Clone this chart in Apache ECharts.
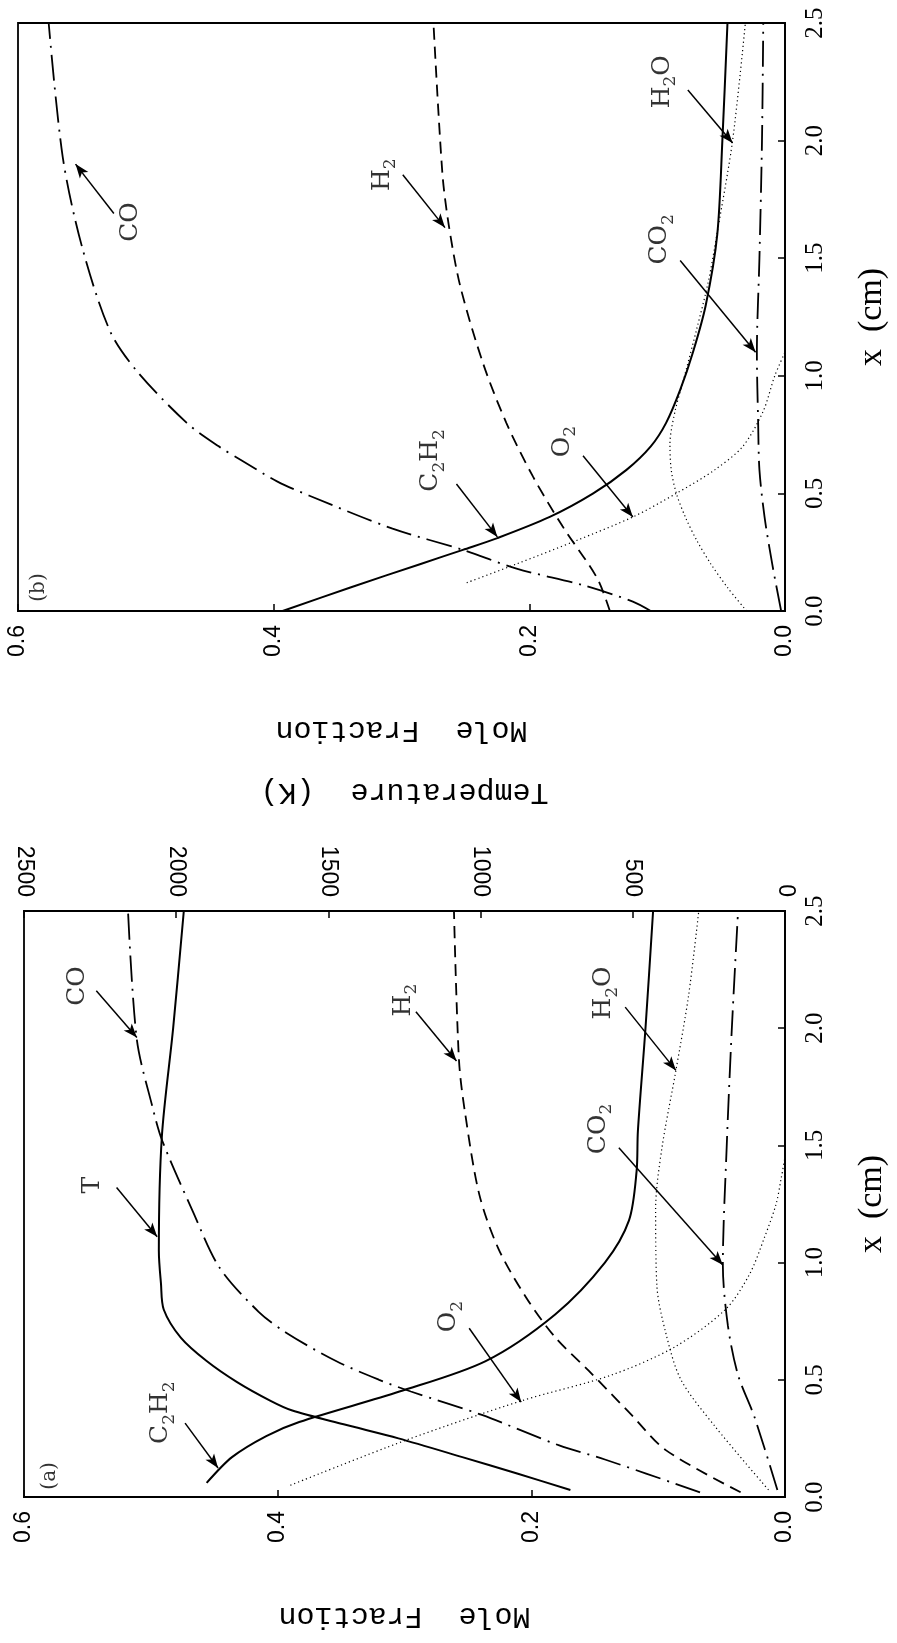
<!DOCTYPE html>
<html><head><meta charset="utf-8">
<script src="https://cdn.jsdelivr.net/npm/echarts@6/dist/echarts.min.js"></script>
<style>html,body{margin:0;padding:0;background:#fff;}#c{width:897px;height:1643px;}</style>
</head><body><div id="c"></div>
<script>
// ---------- DATA (x in cm, mole fraction / temperature) ----------
// Panel (b)
const bC2H2X = [0, 0.1, 0.2, 0.26, 0.31, 0.4, 0.5, 0.6, 0.7, 0.8, 0.94, 1.1, 1.3, 1.6, 2.0, 2.5];
const bC2H2  = [0.393, 0.34, 0.285, 0.252, 0.225, 0.184, 0.15, 0.124, 0.105, 0.093, 0.082, 0.072, 0.062, 0.053, 0.049, 0.045];
const bCOX   = [0.0, 0.04, 0.11, 0.18, 0.26, 0.35, 0.49, 0.55, 0.64, 0.70, 0.80, 1.02, 1.19, 1.55, 1.93, 2.5];
const bCO    = [0.105, 0.119, 0.158, 0.21, 0.252, 0.307, 0.372, 0.397, 0.425, 0.443, 0.468, 0.507, 0.528, 0.55, 0.565, 0.576];
const bH2X   = [0.0, 0.14, 0.36, 0.57, 0.80, 1.05, 1.38, 1.64, 1.86, 2.5];
const bH2    = [0.137, 0.147, 0.174, 0.197, 0.218, 0.236, 0.254, 0.263, 0.268, 0.275];
const bO2X   = [0.12, 0.2, 0.3, 0.4, 0.5, 0.6, 0.7, 0.85, 1.0, 1.1];
const bO2    = [0.249, 0.21, 0.163, 0.119, 0.085, 0.055, 0.033, 0.017, 0.008, 0.0];
const bH2OX  = [0.0, 0.1, 0.2, 0.3, 0.4, 0.5, 0.6, 0.71, 0.85, 0.97, 1.2, 1.4, 1.61, 2.0, 2.5];
const bH2O   = [0.03, 0.045, 0.058, 0.069, 0.078, 0.085, 0.089, 0.09, 0.086, 0.08, 0.069, 0.06, 0.053, 0.041, 0.031];
const bCO2X  = [0.0, 0.2, 0.4, 0.6, 0.8, 1.1, 1.5, 2.0, 2.5];
const bCO2   = [0.003, 0.01, 0.016, 0.02, 0.021, 0.022, 0.02, 0.018, 0.017];
// Panel (a)
const aC2H2X = [0.06, 0.17, 0.26, 0.32, 0.45, 0.58, 0.78, 1.0, 1.18, 1.39, 1.56, 2.0, 2.5];
const aC2H2  = [0.456, 0.436, 0.409, 0.383, 0.304, 0.236, 0.181, 0.142, 0.123, 0.117, 0.116, 0.11, 0.104];
const aTX    = [0.03, 0.1, 0.17, 0.25, 0.31, 0.37, 0.41, 0.49, 0.58, 0.68, 0.8, 0.91, 1.05, 1.54, 2.0, 2.5];
const aT     = [705, 880, 1060, 1270, 1450, 1621, 1690, 1800, 1900, 1985, 2041, 2050, 2057, 2047, 2010, 1975];
const aCOX   = [0.02, 0.16, 0.22, 0.35, 0.45, 0.50, 0.58, 0.70, 0.79, 0.98, 1.22, 1.52, 1.67, 1.95, 2.5];
const aCO    = [0.067, 0.142, 0.178, 0.239, 0.295, 0.32, 0.354, 0.393, 0.415, 0.446, 0.467, 0.491, 0.499, 0.511, 0.518];
const aH2X   = [0.02, 0.2, 0.35, 0.54, 0.68, 0.85, 1.06, 1.29, 1.63, 1.86, 2.5];
const aH2    = [0.035, 0.094, 0.121, 0.155, 0.181, 0.204, 0.226, 0.241, 0.252, 0.257, 0.261];
const aO2X   = [0.05, 0.24, 0.41, 0.52, 0.64, 0.8, 0.95, 1.11, 1.25, 1.36, 1.45];
const aO2    = [0.39, 0.30, 0.208, 0.137, 0.087, 0.047, 0.028, 0.016, 0.007, 0.003, 0.0];
const aH2OX  = [0.03, 0.3, 0.5, 0.7, 0.9, 1.23, 1.49, 1.82, 2.14, 2.5];
const aH2O   = [0.013, 0.055, 0.082, 0.094, 0.101, 0.102, 0.097, 0.086, 0.076, 0.068];
const aCO2X  = [0.03, 0.34, 0.52, 0.73, 0.99, 1.49, 1.99, 2.5];
const aCO2   = [0.006, 0.024, 0.037, 0.045, 0.049, 0.046, 0.042, 0.037];
// Tick values
const moleTicks = [0, 0.2, 0.4, 0.6];
const xTicks = [0, 0.5, 1.0, 1.5, 2.0, 2.5];
const tempTicks = [0, 500, 1000, 1500, 2000, 2500];

// annotation texts (rich text: {n|..} normal, {s|..} subscript)
const bLabels = [
  {t:'{n|CO}', p:[0.512,1.654], from:[0.525,1.69], to:[0.555,1.90]},
  {t:'{n|H}{s|2}', p:[0.315,1.855], from:[0.299,1.855], to:[0.266,1.63]},
  {t:'{n|C}{s|2}{n|H}{s|2}', p:[0.277,0.64], from:[0.257,0.54], to:[0.225,0.315]},
  {t:'{n|O}{s|2}', p:[0.174,0.72], from:[0.158,0.66], to:[0.119,0.40]},
  {t:'{n|CO}{s|2}', p:[0.098,1.58], from:[0.082,1.49], to:[0.023,1.10]},
  {t:'{n|H}{s|2}{n|O}', p:[0.096,2.25], from:[0.076,2.215], to:[0.041,1.99]}
];
const aLabels = [
  {t:'{n|CO}', p:[0.558,2.18], from:[0.543,2.16], to:[0.511,1.96]},
  {t:'{n|T}', p:[0.546,1.33], from:[0.527,1.32], to:[0.495,1.11]},
  {t:'{n|C}{s|2}{n|H}{s|2}', p:[0.492,0.36], from:[0.473,0.315], to:[0.447,0.124]},
  {t:'{n|H}{s|2}', p:[0.301,2.12], from:[0.291,2.07], to:[0.259,1.86]},
  {t:'{n|O}{s|2}', p:[0.265,0.77], from:[0.249,0.72], to:[0.208,0.405]},
  {t:'{n|H}{s|2}{n|O}', p:[0.143,2.15], from:[0.126,2.09], to:[0.086,1.82]},
  {t:'{n|CO}{s|2}', p:[0.147,1.57], from:[0.131,1.49], to:[0.049,0.99]}
];

// ---------- STYLES ----------
const sans = 'Liberation Sans, Arial, sans-serif';
const serif = 'DejaVu Serif, Liberation Serif, serif';
const mono = 'Liberation Mono, Courier New, monospace';
const BLACK = '#000';
const SOLID = {type:'solid', width:2};
const DASH = {type:[12,7], width:1.8};
const DASHDOT = {type:[26,7,2,7], width:1.8};
const DOT = {type:[1.2,3], width:1.2};

function pairs(xs, vs){ return xs.map((x,i)=>[vs[i], x]); }
function line(name, xs, vs, style, xi, yi){
  return {name, type:'line', xAxisIndex:xi, yAxisIndex:yi, data:pairs(xs,vs),
    showSymbol:false, symbol:'none', smooth:0.3, clip:true,
    lineStyle:Object.assign({color:BLACK, cap:'butt'}, style), z:3};
}
const rich = {
  n:{fontFamily:serif, fontSize:25, lineHeight:34, verticalAlign:'middle', color:BLACK},
  s:{fontFamily:serif, fontSize:17, lineHeight:22, verticalAlign:'bottom', color:BLACK},
  tag:{fontFamily:serif, fontSize:20, color:BLACK}
};
function annot(labels, xi, yi, tag, tagPos){
  return [{type:'scatter', xAxisIndex:xi, yAxisIndex:yi, symbolSize:0, z:5,
    data: labels.map(l=>({value:l.p, label:{formatter:l.t}})).concat([{value:tagPos, label:{formatter:'{tag|'+tag+'}'}}]),
    label:{show:true, position:'inside', rotate:90, color:BLACK, fontFamily:serif, fontSize:25, rich},
    markLine:{silent:true, symbol:['none','arrow'], symbolSize:[8,14], animation:false,
      lineStyle:{color:BLACK, width:1.5, type:'solid'}, label:{show:false},
      data: labels.map(l=>[{coord:l.from},{coord:l.to}])}
  }];
}

function moleAxis(gi){
  return {gridIndex:gi, type:'value', min:0, max:0.6, interval:0.2, inverse:true, position:'bottom',
    axisLine:{show:true, lineStyle:{color:BLACK, width:1.8}},
    axisTick:{show:true, inside:true, length:7, lineStyle:{color:BLACK, width:1.5}},
    axisLabel:{rotate:90, margin:14, fontFamily:sans, fontSize:23, color:BLACK,
      formatter:v=>moleTicks.some(t=>Math.abs(t-v)<1e-9)?v.toFixed(1):''},
    splitLine:{show:false},
    name:'Mole  Fraction', nameLocation:'middle', nameRotate:180, nameGap:104,
    nameTextStyle:{fontFamily:mono, fontSize:30, color:BLACK}};
}
function xAxisCm(gi){
  return {gridIndex:gi, type:'value', min:0, max:2.5, interval:0.5, position:'right',
    axisLine:{show:true, lineStyle:{color:BLACK, width:1.8}},
    axisTick:{show:true, inside:true, length:7, lineStyle:{color:BLACK, width:1.5}},
    axisLabel:{rotate:90, margin:18, align:'center', verticalAlign:'top', fontFamily:'Liberation Serif, serif', fontSize:25, color:BLACK,
      formatter:v=>xTicks.some(t=>Math.abs(t-v)<1e-9)?v.toFixed(1):''},
    splitLine:{show:false},
    name:'x  (cm)', nameLocation:'middle', nameRotate:90, nameGap:70,
    nameTextStyle:{fontFamily:'Liberation Serif, serif', fontSize:34, color:BLACK}};
}

const option = {
  animation:false,
  backgroundColor:'#fff',
  grid:[
    {left:18, right:112, top:23, height:588, show:true, borderColor:BLACK, borderWidth:1.8, containLabel:false},
    {left:24, right:110, top:911, height:586, show:true, borderColor:BLACK, borderWidth:1.8, containLabel:false}
  ],
  xAxis:[
    moleAxis(0),
    moleAxis(1),
    {gridIndex:1, type:'value', min:0, max:2500, interval:500, inverse:true, position:'top',
      axisLine:{show:true, lineStyle:{color:BLACK, width:1.8}},
      axisTick:{show:true, inside:true, length:7, lineStyle:{color:BLACK, width:1.5}},
      axisLabel:{rotate:90, margin:14, fontFamily:sans, fontSize:23, color:BLACK,
        formatter:v=>tempTicks.includes(v)?String(v):''},
      splitLine:{show:false},
      name:'Temperature  (K)', nameLocation:'middle', nameRotate:180, nameGap:104,
      nameTextStyle:{fontFamily:mono, fontSize:30, color:BLACK}}
  ],
  yAxis:[ xAxisCm(0), xAxisCm(1) ],
  series:[
    line('C2H2 b', bC2H2X, bC2H2, SOLID, 0, 0),
    line('CO b', bCOX, bCO, DASHDOT, 0, 0),
    line('H2 b', bH2X, bH2, DASH, 0, 0),
    line('O2 b', bO2X, bO2, DOT, 0, 0),
    line('H2O b', bH2OX, bH2O, DOT, 0, 0),
    line('CO2 b', bCO2X, bCO2, DASHDOT, 0, 0),
    line('C2H2 a', aC2H2X, aC2H2, SOLID, 1, 1),
    line('T a', aTX, aT, SOLID, 2, 1),
    line('CO a', aCOX, aCO, DASHDOT, 1, 1),
    line('H2 a', aH2X, aH2, DASH, 1, 1),
    line('O2 a', aO2X, aO2, DOT, 1, 1),
    line('H2O a', aH2OX, aH2O, DOT, 1, 1),
    line('CO2 a', aCO2X, aCO2, DASHDOT, 1, 1),
    ...annot(bLabels, 0, 0, '(b)', [0.584, 0.1]),
    ...annot(aLabels, 1, 1, '(a)', [0.58, 0.09])
  ]
};
const chart = echarts.init(document.getElementById('c'));
chart.setOption(option);
</script>
</body></html>
